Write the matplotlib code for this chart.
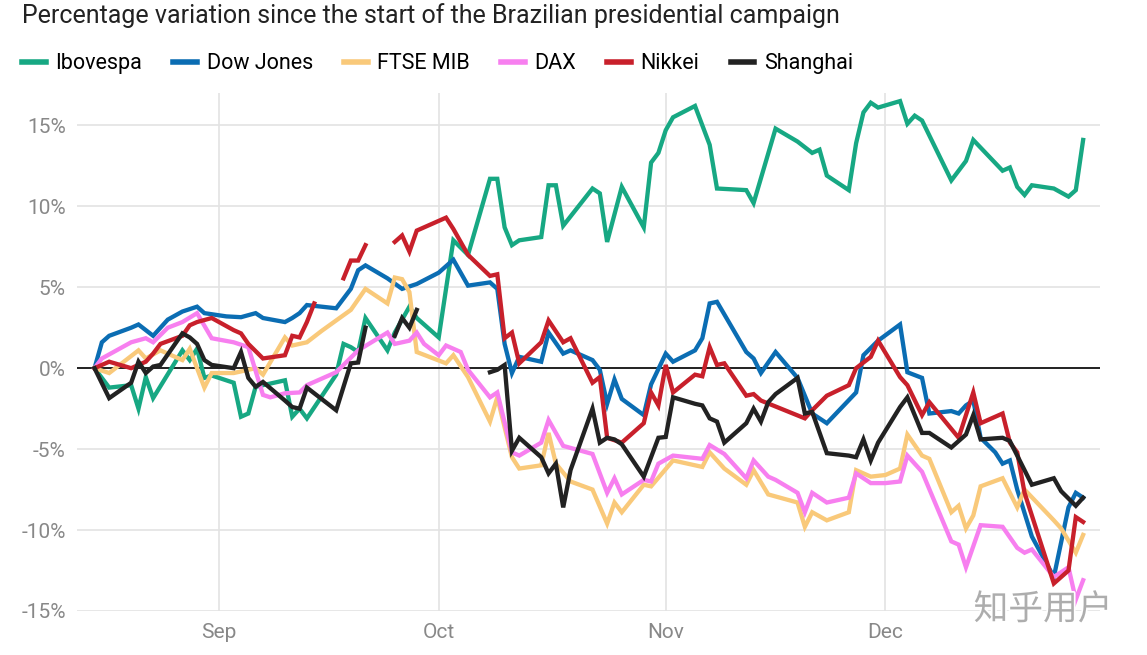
#!/usr/bin/env python3
import numpy as np
import pandas as pd
import matplotlib
matplotlib.use("Agg")
import matplotlib.pyplot as plt
import matplotlib.dates as mdates
import matplotlib.patheffects as pe

# day offsets counted from the start of the campaign (2018-08-15), values in %
START = "2018-08-15"

ibov_days = [0, 2, 5, 6, 7, 8, 12, 13, 14, 15, 16, 19, 20, 21, 22, 26, 27, 28, 29,
             33, 34, 35, 36, 37, 40, 41, 43, 44, 47, 49, 51, 54, 55, 56, 57, 58,
             61, 62, 63, 64, 68, 69, 70, 72, 75, 76, 77, 78, 79, 82, 84, 85, 89,
             90, 93, 96, 98, 99, 100, 103, 104, 105, 106, 107, 110, 111, 112, 113,
             117, 119, 120, 124, 125, 126, 127, 128, 131, 133, 134, 135]
ibov_vals = [0.0, -1.2, -1.05, -2.5, -0.55, -1.85, 1.1, 0.5, 1.2, -0.6, -0.45, -0.9,
             -3.0, -2.8, -1.15, -0.75, -3.0, -2.5, -3.1,
             -0.4, 1.5, 1.3, 1.0, 3.1, 1.1, 2.2, 3.8, 3.1, 1.9, 7.9, 7.0, 11.7,
             11.7, 8.7, 7.6, 7.9, 8.1, 11.3, 11.3, 8.8, 11.1, 10.8, 7.8, 11.2,
             8.7, 12.7, 13.3, 14.7, 15.5, 16.2, 13.8, 11.1, 11.0, 10.2, 14.8, 14.0,
             13.3, 13.5, 11.9, 11.0, 13.9, 15.8, 16.4, 16.1, 16.5, 15.1, 15.6,
             15.3, 11.6, 12.8, 14.1, 12.2, 12.4, 11.2, 10.7, 11.3, 11.1, 10.6,
             11.0, 14.1]

dow_days = [0, 1, 2, 5, 6, 8, 10, 12, 14, 15, 18, 20, 22, 23, 26, 27, 28, 29, 33,
            35, 36, 37, 40, 42, 44, 47, 49, 51, 54, 55, 56, 57, 58, 61, 62, 64, 65,
            68, 69, 70, 71, 72, 75, 76, 78, 79, 82, 83, 84, 85, 89, 90, 91, 93,
            96, 98, 100, 104, 105, 107, 110, 111, 113, 114, 117, 118, 119, 120,
            121, 123, 124, 125, 126, 128, 131, 133, 134, 135]
dow_vals = [0.0, 1.6, 2.0, 2.5, 2.7, 2.0, 3.0, 3.5, 3.8, 3.4, 3.2, 3.15, 3.4, 3.1,
            2.85, 3.1, 3.4, 3.9, 3.7, 4.9, 6.05, 6.35, 5.55, 4.9, 5.2, 5.9, 6.7,
            5.1, 5.3, 4.9, 1.5, -0.3, 0.7, 0.4, 2.2, 0.9, 1.1, 0.5, -0.1, -2.2,
            -0.7, -1.9, -2.9, -1.0, 0.9, 0.4, 1.1, 1.85, 4.0, 4.1, 1.0, 0.6, -0.3,
            1.0, -0.6, -2.8, -3.4, -1.5, 0.8, 1.7, 2.7, -0.25, -0.6, -2.8, -2.65,
            -2.8, -2.3, -2.0, -4.3, -5.2, -5.9, -5.7, -7.5, -10.4, -12.9, -8.6,
            -7.7, -8.0]

ftse_days = [0, 2, 6, 7, 9, 12, 13, 15, 16, 19, 22, 23, 26, 27, 29, 31, 35, 37, 40,
             41, 42, 43, 44, 48, 49, 51, 54, 55, 57, 58, 61, 62, 63, 65, 68, 70, 71,
             72, 75, 76, 79, 83, 84, 86, 89, 90, 92, 96, 97, 98, 100, 103, 104,
             106, 108, 110, 111, 113, 114, 117, 118, 119, 120, 121, 124, 126, 127,
             131, 132, 134, 135]
ftse_vals = [0.0, -0.3, 1.1, 0.6, 1.1, 0.5, 1.2, -1.2, -0.3, -0.3, 0.0, -0.4, 1.9,
             1.4, 1.6, 2.3, 3.6, 4.9, 4.0, 5.6, 5.5, 4.7, 1.0, 0.3, 0.8, -0.55,
             -3.3, -1.8, -5.5, -6.2, -6.0, -4.0, -5.9, -7.0, -7.5, -9.6, -8.3,
             -8.9, -7.2, -7.3, -5.7, -6.1, -5.2, -6.2, -7.2, -6.3, -7.8, -8.3,
             -9.8, -8.9, -9.4, -8.9, -6.3, -6.7, -6.6, -6.2, -4.1, -5.4, -5.6,
             -8.9, -8.5, -9.9, -9.1, -7.3, -6.8, -8.6, -7.5, -9.4, -9.9, -11.4,
             -10.3]

dax_days = [0, 1, 5, 7, 8, 10, 12, 14, 16, 19, 21, 23, 24, 26, 28, 29, 33, 36, 40,
            41, 43, 44, 45, 47, 48, 50, 51, 54, 55, 57, 58, 61, 62, 64, 68, 70, 71,
            72, 75, 76, 77, 79, 83, 84, 86, 89, 90, 92, 93, 96, 97, 98, 100, 103,
            104, 106, 108, 110, 111, 113, 117, 118, 119, 121, 124, 126, 127, 128,
            131, 133, 134, 135]
dax_vals = [0.0, 0.6, 1.6, 1.85, 1.6, 2.5, 2.85, 3.4, 1.85, 1.6, 1.3, -1.65, -1.8,
            -1.55, -1.5, -1.05, -0.25, 1.1, 2.2, 1.5, 1.7, 2.2, 1.5, 0.8, 1.4, 1.0,
            -0.1, -1.8, -1.5, -5.2, -5.4, -4.6, -3.2, -4.8, -5.3, -7.7, -6.8, -7.8,
            -6.9, -7.0, -5.9, -5.4, -5.6, -4.75, -5.3, -6.8, -5.7, -6.7, -6.9,
            -7.7, -8.9, -7.7, -8.3, -8.0, -6.5, -7.1, -7.1, -7.0, -5.4, -6.4,
            -10.7, -10.9, -12.3, -9.7, -9.8, -11.1, -11.4, -11.2, -12.9, -12.3,
            -14.3, -13.1]

# NaN = market closed (line is broken there)
nikkei_days = [0, 2, 5, 7, 8, 9, 12, 13, 14, 16, 19, 20, 21, 23, 26, 27, 28, 29, 30,
               33, 34, 35, 36, 37, 40, 41, 42, 43, 44, 47, 48, 49, 51, 54, 55, 56,
               57, 58, 61, 62, 64, 65, 68, 69, 70, 72, 75, 76, 77, 78, 79, 82, 83,
               84, 85, 86, 89, 90, 91, 97, 98, 100, 103, 104, 106, 107, 110, 111,
               113, 114, 118, 120, 121, 124, 125, 126, 127, 131, 133, 134, 135]
nikkei_vals = [0.0, 0.4, 0.0, 0.4, 0.9, 1.5, 2.0, 2.65, 2.85, 3.1, 2.35, 2.15, 1.5,
               0.6, 0.8, 2.0, 1.9, 2.85, 4.0, np.nan, 5.55, 6.65, 6.65, 7.6, np.nan,
               7.8, 8.2, 7.2, 8.5, 9.1, 9.3, 8.6, 7.0, 5.7, 5.8, 1.85, 2.2, 0.3,
               1.6, 2.95, 1.6, 1.85, -0.9, -0.55, -4.3, -4.6, -3.4, -1.5, -2.3,
               0.2, -1.5, -0.4, -0.5, 1.3, 0.2, 0.3, -1.7, -1.6, -2.0, -3.1, -2.6,
               -1.7, -1.05, 0.0, 0.7, 1.7, -0.55, -1.05, -2.9, -2.1, -4.3, -1.5,
               -3.4, -2.8, -4.6, -5.2, -7.7, -13.3, -12.5, -9.2, -9.5]

shanghai_days = [0, 2, 5, 6, 7, 8, 9, 12, 13, 14, 15, 16, 19, 20, 21, 22, 23, 26, 27,
                 28, 29, 33, 35, 36, 37, 40, 41, 42, 43, 44, 47, 54, 55, 56, 57, 58,
                 61, 62, 63, 64, 65, 68, 69, 70, 71, 72, 75, 77, 78, 79, 82, 83, 84,
                 85, 86, 89, 90, 91, 92, 93, 96, 97, 98, 100, 103, 104, 105, 106,
                 107, 110, 111, 113, 114, 117, 119, 120, 121, 124, 125, 128, 131,
                 132, 134, 135]
shanghai_vals = [0.0, -1.85, -0.9, 0.4, -0.3, 0.1, 0.2, 2.15, 1.9, 1.5, 0.5, 0.2,
                 0.0, 1.0, -0.6, -1.15, -0.85, -2.0, -2.4, -2.5, -1.2, -2.6, 0.3,
                 0.35, 2.5, np.nan, 2.0, 3.1, 2.5, 3.6, np.nan, -0.25, -0.1, 0.2,
                 -5.1, -4.3, -5.5, -6.5, -5.9, -8.6, -6.3, -2.5, -4.6, -4.3, -4.4,
                 -4.7, -6.7, -4.3, -4.25, -1.8, -2.2, -2.3, -3.1, -3.3, -4.6, -3.4,
                 -2.5, -3.3, -2.1, -1.6, -0.6, -2.8, -2.7, -5.25, -5.4, -5.5, -4.4,
                 -5.7, -4.6, -2.4, -1.8, -4.0, -4.0, -4.9, -4.1, -2.9, -4.4, -4.3,
                 -4.5, -7.2, -6.8, -7.6, -8.5, -8.0]

series_names = ["Ibovespa", "Dow Jones", "FTSE MIB", "DAX", "Nikkei", "Shanghai"]
series_days = [ibov_days, dow_days, ftse_days, dax_days, nikkei_days, shanghai_days]
series_vals = [ibov_vals, dow_vals, ftse_vals, dax_vals, nikkei_vals, shanghai_vals]
colors = ["#17a883", "#0b6db3", "#f9c97a", "#f77fef", "#c8202b", "#222222"]

y_ticks = [-15, -10, -5, 0, 5, 10, 15]


def to_dates(days):
    return pd.Timestamp(START) + pd.to_timedelta(days, unit="D")


def main():
    plt.rcParams["font.family"] = ["Roboto", "DejaVu Sans"]
    fig = plt.figure(figsize=(11.47, 6.55), dpi=100)
    ax = fig.add_axes([0.0671, 0.0672, 0.8919, 0.7908])

    lines = []
    for name, days, vals, col in zip(series_names, series_days, series_vals, colors):
        ln, = ax.plot(to_dates(days), vals, color=col, lw=3.1, label=name,
                      solid_joinstyle="miter", zorder=3)
        lines.append(ln)

    ax.axhline(0, color="black", lw=1.2, zorder=2)

    ax.set_ylim(-15, 17)
    ax.set_xlim(to_dates([-2.4])[0], to_dates([137.3])[0])
    ax.set_yticks(y_ticks)
    ax.set_yticklabels([f"{v}%" for v in y_ticks])
    ax.xaxis.set_major_locator(mdates.MonthLocator(bymonth=[9, 10, 11, 12]))
    ax.xaxis.set_major_formatter(mdates.DateFormatter("%b"))

    ax.grid(True, color="#e3e3e3", lw=1.2, zorder=0)
    for s in ax.spines.values():
        s.set_visible(False)
    ax.tick_params(length=0, labelsize=15, colors="#888888")
    ax.tick_params(axis="y", pad=8)
    ax.tick_params(axis="x", pad=9)

    fig.text(0.019, 0.995, "Percentage variation since the start of the Brazilian presidential campaign",
             fontsize=18, color="#222222", ha="left", va="top")

    leg = fig.legend(handles=lines, loc="upper left", bbox_to_anchor=(0.0025, 0.948),
                     ncol=6, frameon=False, fontsize=15.5, handlelength=1.1,
                     handletextpad=0.45, columnspacing=1.44)
    for h in leg.legend_handles:
        h.set_linewidth(4)

    fig.text(0.97, 0.042, "知乎用户", fontsize=25, color="#adadad", ha="right",
             va="bottom", family=["Noto Sans CJK SC", "DejaVu Sans"], zorder=10,
             path_effects=[pe.withStroke(linewidth=2.5, foreground="white")])

    fig.savefig("out.png", dpi=100)


if __name__ == "__main__":
    main()
